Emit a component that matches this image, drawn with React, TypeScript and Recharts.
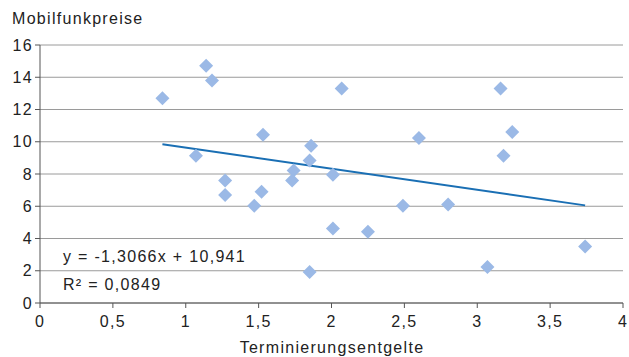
import React from "react";
import {
  ScatterChart,
  Scatter,
  XAxis,
  YAxis,
  CartesianGrid,
  ReferenceLine,
  Customized,
} from "recharts";

// Terminierungsentgelte (x) / Mobilfunkpreise (y)
const termination = [
  0.84, 1.14, 1.18, 1.07, 1.53, 1.86, 1.85, 1.74, 1.27, 1.27, 1.47, 1.52, 1.73,
  1.85, 2.07, 3.16, 2.6, 3.24, 3.18, 2.01, 2.49, 2.8, 2.01, 2.25, 3.07, 3.74,
];
const prices = [
  12.7, 14.72, 13.8, 9.13, 10.43, 9.75, 8.84, 8.22, 7.6, 6.7, 6.03, 6.9, 7.6,
  1.92, 13.3, 13.3, 10.24, 10.6, 9.13, 7.95, 6.03, 6.11, 4.62, 4.42, 2.23, 3.51,
];

const xTicks = [0, 0.5, 1, 1.5, 2, 2.5, 3, 3.5, 4];
const yTicks = [0, 2, 4, 6, 8, 10, 12, 14, 16];

// linear trend as printed in the chart
const slope = -1.3066;
const intercept = 10.941;
const r2 = 0.0849;
const trendFrom = 0.84;
const trendTo = 3.74;

const data = termination.map((x, i) => ({ x, y: prices[i] }));

const font = "'Liberation Sans', Arial, Helvetica, sans-serif";
const spacing = 1.3;
const textColor = "#222";

const Diamond = (props: any) => {
  const { cx, cy } = props;
  const r = 7;
  return (
    <polygon
      points={`${cx},${cy - r} ${cx + r},${cy} ${cx},${cy + r} ${cx - r},${cy}`}
      fill="#9bb9e6"
    />
  );
};

const comma = (v: number) => String(v).replace(".", ",");

const Labels = () => (
  <g fontFamily={font} fontSize={16} fill={textColor} letterSpacing={spacing}>
    <text x={12} y={24}>Mobilfunkpreise</text>
    <text x={63} y={262}>
      {`y = ${comma(slope)}x + ${comma(intercept)}`}
    </text>
    <text x={63} y={290}>{`R² = ${comma(r2)}`}</text>
    <text x={332} y={353} textAnchor="middle">Terminierungsentgelte</text>
  </g>
);

export default function App() {
  return (
    <div style={{ position: "absolute", left: 0, top: 0, background: "#fff" }}>
      <ScatterChart
        width={629}
        height={357}
        margin={{ top: 45, right: 6, left: 0, bottom: 0 }}
        style={{ fontFamily: font }}
      >
        <CartesianGrid vertical={false} stroke="#9a9a9a" />
        <XAxis
          type="number"
          dataKey="x"
          domain={[0, 4]}
          ticks={xTicks}
          tickFormatter={comma}
          height={54}
          stroke="#555"
          tickSize={5}
          tickMargin={8}
          tick={{ fontSize: 16, fill: textColor, letterSpacing: spacing }}
        />
        <YAxis
          type="number"
          dataKey="y"
          domain={[0, 16]}
          ticks={yTicks}
          width={40}
          stroke="#555"
          tickSize={5}
          tickMargin={2}
          tick={{ fontSize: 16, fill: textColor, letterSpacing: spacing }}
        />
        <Scatter data={data} shape={<Diamond />} isAnimationActive={false} />
        <ReferenceLine
          segment={[
            { x: trendFrom, y: slope * trendFrom + intercept },
            { x: trendTo, y: slope * trendTo + intercept },
          ]}
          stroke="#1a6fb4"
          strokeWidth={2}
        />
        <Customized component={Labels} />
      </ScatterChart>
    </div>
  );
}
